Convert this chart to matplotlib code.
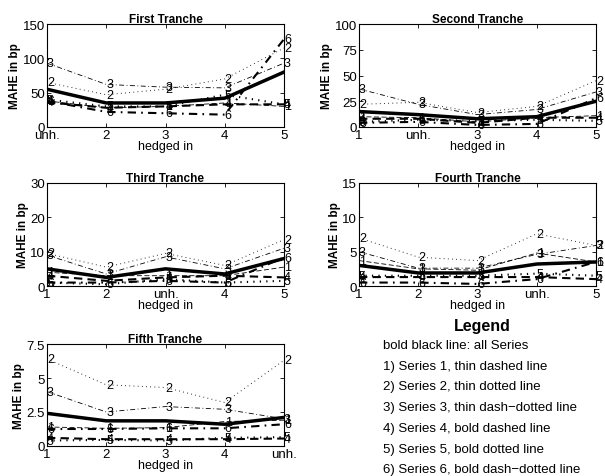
import numpy as np
import matplotlib
matplotlib.use("Agg")
import matplotlib.pyplot as plt

plt.rcParams["font.family"] = ["Liberation Sans", "DejaVu Sans"]

# x positions 1..5, one of them is the unhedged case
x_pos = [1, 2, 3, 4, 5]

titles = ["First Tranche", "Second Tranche", "Third Tranche",
          "Fourth Tranche", "Fifth Tranche"]
xlabels = [["unh.", "2", "3", "4", "5"],
           ["1", "unh.", "3", "4", "5"],
           ["1", "2", "unh.", "4", "5"],
           ["1", "2", "3", "unh.", "5"],
           ["1", "2", "3", "4", "unh."]]
ylims = [150, 100, 30, 15, 7.5]
yticks = [[0, 50, 100, 150], [0, 25, 50, 75, 100], [0, 10, 20, 30],
          [0, 5, 10, 15], [0, 2.5, 5, 7.5]]
yticklabels = [["0", "50", "100", "150"], ["0", "25", "50", "75", "100"],
               ["0", "10", "20", "30"], ["0", "5", "10", "15"],
               ["0", "2.5", "5", "7.5"]]

# bold black line: all series
t1_all = [55, 35, 35, 42, 80]
t2_all = [15, 12, 8, 10, 25]
t3_all = [5, 2.5, 5, 3.5, 8]
t4_all = [3.0, 1.9, 1.9, 3.2, 3.5]
t5_all = [2.4, 1.85, 1.85, 1.6, 2.1]

# series 1..6 per tranche
t1_series = [[38, 28, 30, 35, 30],
             [65, 47, 55, 70, 115],
             [93, 62, 58, 57, 93],
             [36, 28, 30, 33, 33],
             [40, 30, 30, 47, 33],
             [38, 22, 20, 18, 128]]
t2_series = [[10, 9, 5, 9, 11],
             [22, 24, 14, 20, 45],
             [37, 22, 12, 17, 34],
             [8, 8, 4, 9, 9],
             [5, 7, 6, 7, 6],
             [4, 5, 2, 3, 28]]
t3_series = [[4, 3, 3, 3, 5.5],
             [9.5, 5.5, 9.5, 6, 13.5],
             [9, 3.5, 8.5, 5, 11],
             [3, 1.5, 2.5, 3, 2.5],
             [1, 0.5, 2, 1, 1.5],
             [1, 1, 1.5, 1, 8.3]]
t4_series = [[3.7, 2.5, 2.3, 4.8, 3.5],
             [7.0, 4.2, 3.7, 7.6, 5.9],
             [5.0, 2.6, 2.6, 4.6, 5.9],
             [1.3, 1.3, 1.3, 1.3, 1.0],
             [1.5, 1.5, 1.5, 1.8, 1.5],
             [0.5, 0.5, 0.3, 1.0, 3.5]]
t5_series = [[1.4, 1.3, 1.35, 1.8, 1.9],
             [6.4, 4.5, 4.3, 3.2, 6.3],
             [4.0, 2.5, 2.9, 2.7, 2.0],
             [0.6, 0.5, 0.5, 0.5, 0.55],
             [0.4, 0.45, 0.4, 0.6, 0.65],
             [1.25, 1.25, 1.3, 1.3, 1.6]]

all_lines = [t1_all, t2_all, t3_all, t4_all, t5_all]
series = [t1_series, t2_series, t3_series, t4_series, t5_series]

# matlab-ish dash patterns: dashed, dotted, dash-dot; thin then bold
dashes = [(0, (6, 3)), (0, (0.8, 3.5)), (0, (6, 3, 1, 3))]
styles = [(dashes[0], 0.6), (dashes[1], 0.7), (dashes[2], 0.6),
          ((0, (4, 2.5)), 1.5), ((0, (0.6, 2.5)), 1.5), ((0, (4, 2.5, 0.8, 2.5)), 1.5)]

legend_lines = ["bold black line: all Series",
                "1) Series 1, thin dashed line",
                "2) Series 2, thin dotted line",
                "3) Series 3, thin dash\u2212dotted line",
                "4) Series 4, bold dashed line",
                "5) Series 5, bold dotted line",
                "6) Series 6, bold dash\u2212dotted line"]

W, H = 605, 477
fig = plt.figure(figsize=(W / 100, H / 100), dpi=100)

# axes boxes in pixels: left, top, right, bottom
boxes = [(47, 25, 284, 128), (359, 25, 596, 128),
         (47, 184, 284, 287), (359, 184, 596, 287),
         (47, 345, 284, 447)]

for i, (l, t, r, b) in enumerate(boxes):
    ax = fig.add_axes([l / W, 1 - b / H, (r - l) / W, (b - t) / H])
    for k, ys in enumerate(series[i]):
        ls, lw = styles[k]
        ax.plot(x_pos, ys, color="black", linestyle=ls, linewidth=lw)
        for xx, yy in zip(x_pos, ys):
            ax.text(xx, yy, str(k + 1), fontsize=9, ha="left", va="center",
                    clip_on=False)
    ax.plot(x_pos, all_lines[i], color="black", linewidth=2.5)
    ax.set_xlim(1, 5)
    ax.set_ylim(0, ylims[i])
    ax.set_xticks(x_pos)
    ax.set_xticklabels(xlabels[i])
    ax.set_yticks(yticks[i])
    ax.set_yticklabels(yticklabels[i])
    ax.tick_params(direction="in", top=True, right=True, labelsize=9.5,
                   length=3, width=0.6, pad=1.5)
    for sp in ax.spines.values():
        sp.set_linewidth(0.8)
    ax.set_title(titles[i], fontsize=8.5, fontweight="bold", pad=1.5)
    ax.set_ylabel("MAHE in bp", fontsize=8.5, fontweight="bold", labelpad=1)
    ax.set_xlabel("hedged in", fontsize=9, labelpad=-1)

fig.text(482 / W, 1 - 327 / H, "Legend", fontsize=11.5, fontweight="bold",
         ha="center", va="center")
for j, line in enumerate(legend_lines):
    fig.text(383 / W, 1 - (346 + j * 20.7) / H, line, fontsize=9.5,
             ha="left", va="center")

fig.savefig("out.png", dpi=100)
